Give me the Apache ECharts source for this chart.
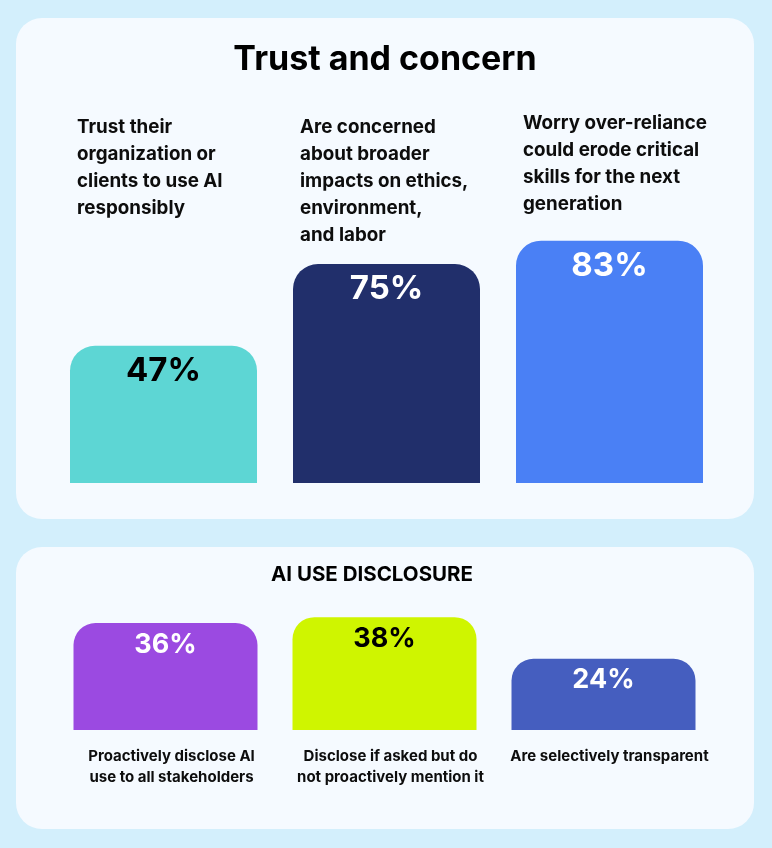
<!DOCTYPE html>
<html><head><meta charset="utf-8">
<script src="https://cdn.jsdelivr.net/npm/echarts@6/dist/echarts.min.js"></script>
<style>html,body{margin:0;padding:0;background:#d3effc;overflow:hidden}#c{width:772px;height:848px;}</style>
</head><body><div id="c"></div>
<script>
// ---- data ----
const trustCategories = [
  'Trust their\norganization or\nclients to use AI\nresponsibly',
  'Are concerned\nabout broader\nimpacts on ethics,\nenvironment,\nand labor',
  'Worry over-reliance\ncould erode critical\nskills for the next\ngeneration'
];
const trustValues = [47, 75, 83];
const disclosureCategories = [
  'Proactively disclose AI\nuse to all stakeholders',
  'Disclose if asked but do\nnot proactively mention it',
  'Are selectively transparent'
];
const disclosureValues = [36, 38, 24];
const mainTitle = 'Trust and concern';
const subTitle = 'AI USE DISCLOSURE';

// ---- styles ----
const trustColors = ['#5dd6d4', '#212f6b', '#4a80f5'];
const trustLabelColors = ['#000000', '#ffffff', '#ffffff'];
const disclosureColors = ['#9b4ae1', '#cff500', '#455ebf'];
const disclosureLabelColors = ['#ffffff', '#000000', '#ffffff'];
const FONT = 'Inter, "Noto Sans", sans-serif';
const TOP_BAR_W = 187, BOT_BAR_W = 184;

const chart = echarts.init(document.getElementById('c'));

const baseGraphic = [
  {id: 'p1', type: 'rect', z: -10, shape: {x: 16, y: 18, width: 738, height: 501, r: 26}, style: {fill: '#f5faff'}},
  {id: 'p2', type: 'rect', z: -10, shape: {x: 16, y: 547, width: 738, height: 282, r: 26}, style: {fill: '#f5faff'}},
  {id: 't1', type: 'text', z: 5, style: {text: mainTitle, x: 385, y: 60, align: 'center', verticalAlign: 'middle',
    fill: '#000', fontFamily: FONT, fontWeight: 'bold', fontSize: 34}},
  {id: 't2', type: 'text', z: 5, style: {text: subTitle, x: 372, y: 575, align: 'center', verticalAlign: 'middle',
    fill: '#000', fontFamily: FONT, fontWeight: 'bold', fontSize: 20.5}}
];

chart.setOption({
  backgroundColor: 'transparent',
  animation: false,
  graphic: baseGraphic,
  grid: [
    {left: 52, right: 51, top: 191, height: 292},
    {left: 56, right: 59, top: 433, height: 297}
  ],
  xAxis: [
    {type: 'category', gridIndex: 0, data: trustCategories, axisLine: {show: false}, axisTick: {show: false}, axisLabel: {show: false}},
    {type: 'category', gridIndex: 1, data: disclosureCategories, axisLine: {show: false}, axisTick: {show: false},
      axisLabel: {interval: 0, margin: 16, padding: [0, 0, 0, 12], fontFamily: FONT, fontWeight: 'bold', fontSize: 15, lineHeight: 21, color: '#0d0d0d'}}
  ],
  yAxis: [
    {type: 'value', gridIndex: 0, min: 0, max: 100, show: false},
    {type: 'value', gridIndex: 1, min: 0, max: 100, show: false}
  ],
  series: [
    {type: 'bar', xAxisIndex: 0, yAxisIndex: 0, barWidth: TOP_BAR_W,
      itemStyle: {borderRadius: [25, 25, 0, 0]},
      label: {show: true, position: 'insideTop', distance: 9, formatter: '{c}%', fontFamily: FONT, fontWeight: 'bold', fontSize: 33},
      data: trustValues.map((v, i) => ({value: v, itemStyle: {color: trustColors[i]}, label: {color: trustLabelColors[i]}}))},
    {type: 'bar', xAxisIndex: 1, yAxisIndex: 1, barWidth: BOT_BAR_W,
      itemStyle: {borderRadius: [22, 22, 0, 0]},
      label: {show: true, position: 'insideTop', distance: 8, formatter: '{c}%', fontFamily: FONT, fontWeight: 'bold', fontSize: 27},
      data: disclosureValues.map((v, i) => ({value: v, itemStyle: {color: disclosureColors[i]}, label: {color: disclosureLabelColors[i]}}))}
  ]
});

// category texts above the top bars, placed from the axis scale
const catTexts = trustCategories.map((c, i) => {
  const cx = chart.convertToPixel({xAxisIndex: 0}, i);
  return {id: 'c' + i, type: 'text', z: 5, style: {text: c, x: cx - TOP_BAR_W / 2 + 7, y: i === 2 ? 110 : 114, align: 'left', verticalAlign: 'top',
    lineHeight: 27, fill: '#0d0d0d', fontFamily: FONT, fontWeight: 'bold', fontSize: 18.8}};
});
chart.setOption({graphic: baseGraphic.concat(catTexts)}, {replaceMerge: ['graphic']});
</script>
</body></html>
